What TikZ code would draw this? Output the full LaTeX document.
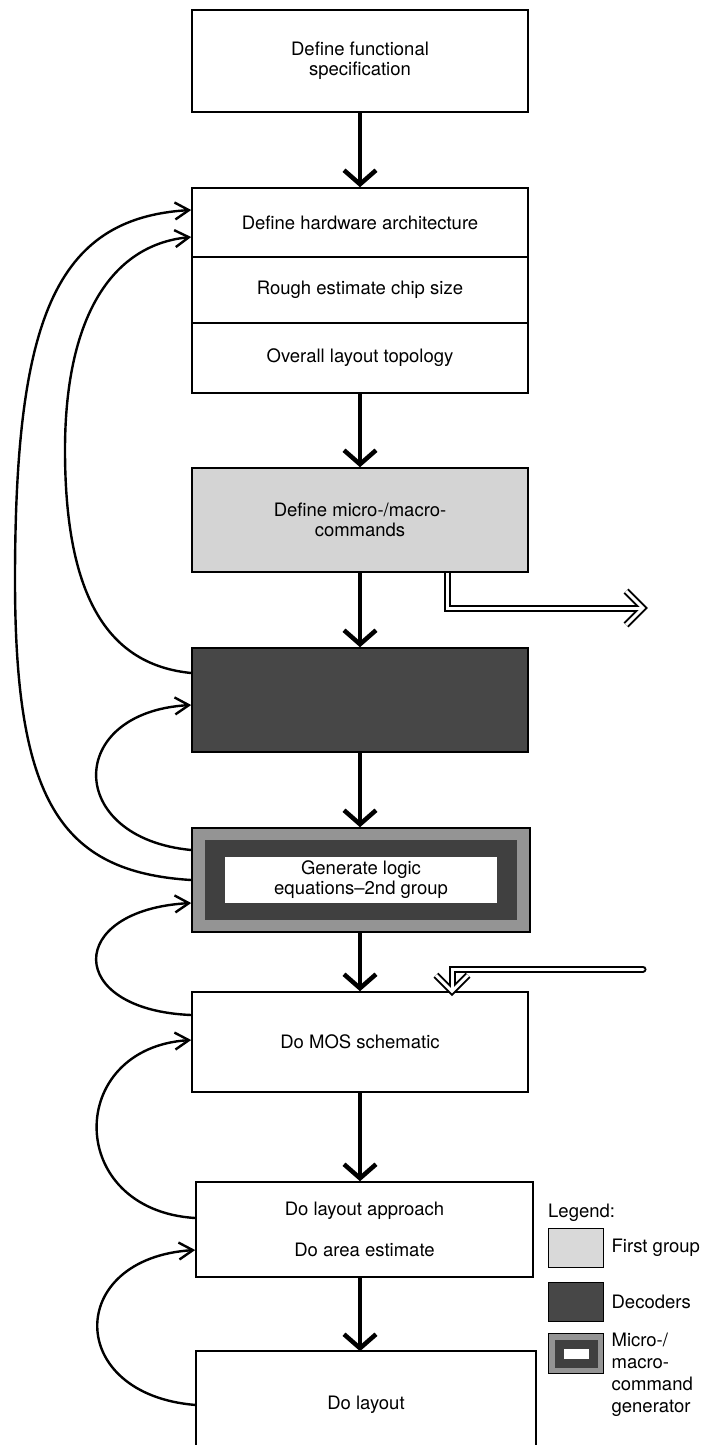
\documentclass[tikz,border=0pt]{standalone}
\usepackage{fontspec}
\setmainfont{TeX Gyre Heros}
\usetikzlibrary{arrows.meta,backgrounds}

\tikzset{
  box/.style={draw, line width=1.6pt, minimum width=336pt, inner sep=0pt, align=center, font=\fontsize{18.5}{20}\selectfont},
  flow/.style={line width=4.5pt, -{Straight Barb[length=14pt,width=32pt]}},
  back/.style={line width=2.4pt, -{Straight Barb[length=14pt,width=17pt]}},
  hollow/.style={draw=black, double=white, line width=2pt, double distance=3pt},
  lbl/.style={inner sep=0pt, align=left, font=\fontsize{18.5}{22}\selectfont},
  key/.style={draw, line width=1.4pt, minimum width=55pt, minimum height=39pt, inner sep=0pt, anchor=north west},
}

\begin{document}
\begin{tikzpicture}[x=1pt,y=-1pt]
\useasboundingbox (0,0) rectangle (708,1445);

% Boxes
\node[box, minimum height=102pt] (spec) at (360,61) {Define functional\\specification};
\node[box, minimum height=69pt] (arch) at (360,222.5) {Define hardware architecture};
\node[box, minimum height=66pt] (chip) at (360,290) {Rough estimate chip size};
\node[box, minimum height=70pt] (topo) at (360,358) {Overall layout topology};
\node[box, fill=black!17, minimum height=104pt] (cmds) at (360,520) {Define micro-/macro-\\commands};
\node[box, fill=black!72, minimum height=104pt] (dec) at (360,700) {};
\node[box, fill=black!42, minimum width=338pt, minimum height=104pt] (gen) at (361,880) {};
\node[fill=black!75, minimum width=312pt, minimum height=80pt, inner sep=0pt] (genring) at (gen.center) {};
\node[box, draw=none, fill=white, minimum width=272pt, minimum height=46pt] (geneq) at (gen.center) {Generate logic\\equations--2nd group};
\node[box, minimum height=100pt] (mos) at (360,1042) {Do MOS schematic};
\node[box, minimum width=337pt, minimum height=95pt] (approach) at (364.5,1229.5) {Do layout approach\\[21pt]Do area estimate};
\node[box, draw=none, minimum width=338pt, minimum height=106pt] (layout) at (366,1405) {Do layout};
\draw[line width=1.6pt] (layout.south west) -- (layout.north west) -- (layout.north east) -- (layout.south east);

% Main flow
\draw[flow] (spec.south) -- (arch.north);
\draw[flow] (topo.south) -- (cmds.north);
\draw[flow] (cmds.south) -- (dec.north);
\draw[flow] (dec.south) -- (dec.south |- gen.north);
\draw[flow] (dec.south |- gen.south) -- (mos.north);
\draw[flow] (mos.south) -- (mos.south |- approach.north);
\draw[flow] (mos.south |- approach.south) -- (mos.south |- layout.north);

% Feedback loops
\draw[back] (gen.west) .. controls (60,872) and (15,800) .. (15,580) .. controls (15,320) and (55,218) .. ([yshift=12.5pt]arch.west);
\draw[back] ([yshift=27pt]dec.west) .. controls (110,665) and (65,600) .. (65,450) .. controls (65,320) and (110,245) .. ([yshift=-14.5pt]arch.west);
\draw[back] ([yshift=30pt]gen.west) .. controls (65,838) and (65,712) .. ([yshift=-5pt]dec.west);
\draw[back] ([yshift=27pt]mos.west) .. controls (65,1010) and (65,910) .. ([yshift=-23pt]gen.west);
\draw[back] ([yshift=11.5pt]approach.west) .. controls (65,1210) and (65,1048) .. ([yshift=2pt]mos.west);
\draw[back] (layout.west) .. controls (65,1395) and (65,1258) .. ([yshift=-20.5pt]approach.west);

% Hollow arrows
\coordinate (spill) at (643,608);
\coordinate (feed) at (643,969);
\coordinate (drop) at ([xshift=92pt]mos.north);
\begin{scope}[on background layer]
\draw[hollow] ([xshift=87pt]cmds.center) -- ([xshift=87pt]cmds.south |- spill) -- (spill);
\end{scope}
\draw[hollow] ([shift={(-17,-17)}]spill) -- (spill) -- ([shift={(-17,17)}]spill);
\draw[white, line width=3pt] ([xshift=-18pt]spill) -- ([xshift=-2pt]spill);
\draw[hollow, line cap=round] (feed) -- (feed -| drop) -- ([yshift=1pt]drop);
\draw[hollow] ([shift={(-16,-16)}]drop) -- (drop) -- ([shift={(16,-16)}]drop);
\draw[white, line width=3pt] ([shift={(0,-17)}]drop) -- ([shift={(0,-2)}]drop);

% Legend
\node[lbl, anchor=west] (legend) at (548,1213) {Legend:};
\node[key, fill=black!15] (firstkey) at (548,1228) {};
\node[lbl, anchor=west] (firsttext) at ([xshift=7pt]firstkey.east) {First group};
\node[key, fill=black!72] (deckey) at (548,1282) {};
\node[lbl, anchor=west] (dectext) at ([xshift=7pt]deckey.east) {Decoders};
\node[key, fill=black!42, minimum height=40pt] (genkey) at (548,1333) {};
\node[fill=black!75, minimum width=43pt, minimum height=28pt, inner sep=0pt] (genkeyring) at (genkey.center) {};
\node[fill=white, minimum width=25pt, minimum height=10pt, inner sep=0pt] (genkeyhole) at (genkey.center) {};
\node[lbl, anchor=north west] (gentext) at ([xshift=7pt]genkey.north east) {Micro-/\\macro-\\command\\generator};

\end{tikzpicture}
\end{document}
